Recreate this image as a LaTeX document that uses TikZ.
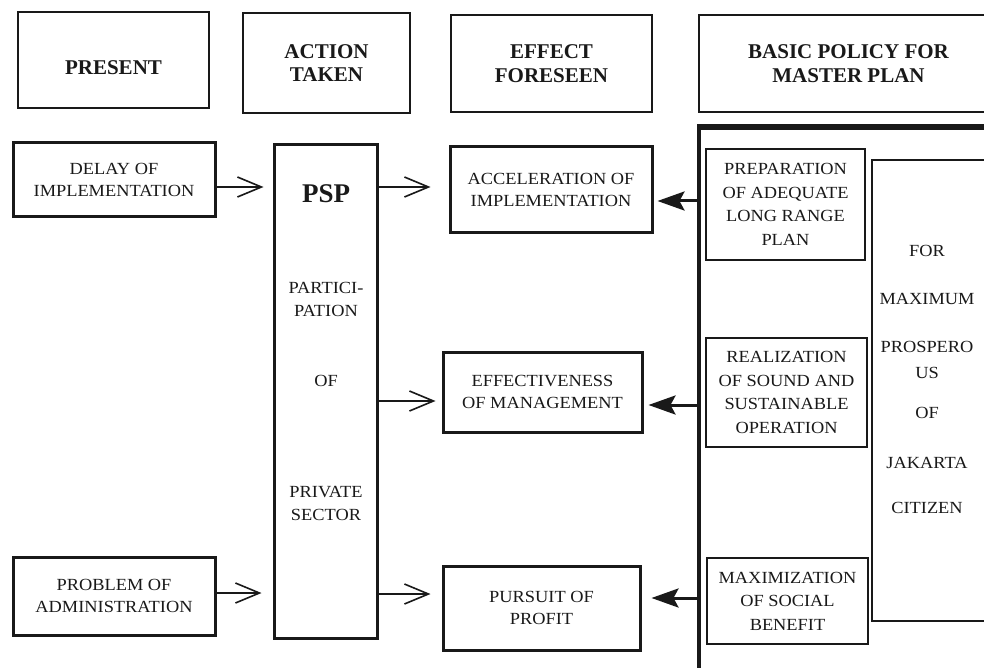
\documentclass[tikz,border=0pt]{standalone}
\usepackage{fontspec}
\setmainfont{Liberation Serif}
\newfontfamily\boxfont[FakeStretch=1.08]{Liberation Serif}
\usetikzlibrary{arrows.meta}
\definecolor{ink}{RGB}{25,25,25}
\tikzset{
  hdrbox/.style={draw=ink, line width=2pt, inner sep=0pt},
  hdrtext/.style={align=center, text=ink, inner sep=0pt,
    font=\fontsize{21}{23.5}\selectfont\bfseries},
  heavybox/.style={draw=ink, line width=3pt, inner sep=0pt, align=center,
    text=ink, font=\boxfont\fontsize{17}{22.5}\selectfont},
  lightbox/.style={draw=ink, line width=2pt, inner sep=0pt, align=center,
    text=ink, font=\boxfont\fontsize{17}{23.5}\selectfont},
  word/.style={align=center, text=ink, inner sep=0pt,
    font=\boxfont\fontsize{17}{23}\selectfont},
  openarrow/.style={draw=ink, line width=1.8pt,
    -{Straight Barb[length=24pt,width=20pt,line width=1.6pt]}},
  fatarrow/.style={draw=ink, line width=3pt,
    -{Stealth[length=27pt,width=19pt,inset=5pt]}},
}
\begin{document}
\begin{tikzpicture}[x=1pt,y=-1pt]
\fill[white] (0,0) rectangle (984,668);
\useasboundingbox (0,0) rectangle (984,668);
\clip (0,0) rectangle (984,668);

% column headings
\node[hdrbox, minimum width=191pt, minimum height=96pt,
  label={[hdrtext, yshift=-8pt]center:PRESENT}] (present) at (113.5,60) {};
\node[hdrbox, hdrtext, minimum width=167pt, minimum height=100pt]
  (action) at (326.5,63) {ACTION\\TAKEN};
\node[hdrbox, hdrtext, minimum width=201pt, minimum height=97pt]
  (effect) at (551.5,63.5) {EFFECT\\FORESEEN};
\node[hdrbox, hdrtext, minimum width=299pt, minimum height=97pt]
  (basic) at (848.5,63.5) {BASIC POLICY FOR\\MASTER PLAN};

% present situation
\node[heavybox, minimum width=202pt, minimum height=74pt]
  (delay) at (114,180) {DELAY OF\\IMPLEMENTATION};
\node[heavybox, minimum width=202pt, minimum height=78pt]
  (problem) at (114,596) {PROBLEM OF\\ADMINISTRATION};

% action taken
\node[heavybox, minimum width=103pt, minimum height=493pt] (psp) at (325.5,391.5) {};
\node[text=ink, inner sep=0pt, font=\fontsize{27}{30}\selectfont\bfseries]
  (pspname) at (326,194) {PSP};
\node[word] (psp1) at (326,299) {PARTICI-\\PATION};
\node[word] (psp2) at (326,381) {OF};
\node[word] (psp3) at (326,503) {PRIVATE\\SECTOR};

% effect foreseen
\node[heavybox, minimum width=202pt, minimum height=86pt]
  (acc) at (551,190) {ACCELERATION OF\\IMPLEMENTATION};
\node[heavybox, minimum width=199pt, minimum height=80pt]
  (eff) at (542.5,392) {EFFECTIVENESS\\OF MANAGEMENT};
\node[heavybox, minimum width=197pt, minimum height=84pt]
  (pursuit) at (541.5,608) {PURSUIT OF\\PROFIT};

% basic policy frame
\node[draw=ink, line width=3.2pt, minimum width=320pt, minimum height=580pt,
  inner sep=0pt] (policy) at (859,418) {};
\draw[ink, line width=4.5pt] (policy.north west) -- (policy.north east);
\node[lightbox, minimum width=159pt, minimum height=111pt]
  (prep) at (785.5,204.5) {PREPARATION\\OF ADEQUATE\\LONG RANGE\\PLAN};
\node[lightbox, minimum width=161pt, minimum height=109pt]
  (real) at (786.5,392.5) {REALIZATION\\OF SOUND AND\\SUSTAINABLE\\OPERATION};
\node[lightbox, minimum width=161pt, minimum height=86pt]
  (maxi) at (787.5,601) {MAXIMIZATION\\OF SOCIAL\\BENEFIT};

\node[draw=ink, line width=1.5pt, minimum width=125pt, minimum height=461pt,
  inner sep=0pt] (goal) at (934.5,390.5) {};
\node[word] (goal1) at (927,251) {FOR};
\node[word] (goal2) at (927,299) {MAXIMUM};
\node[word, font=\boxfont\fontsize{17}{26}\selectfont] (goal3) at (927,360) {PROSPERO\\US};
\node[word] (goal4) at (927,413) {OF};
\node[word] (goal5) at (927,463) {JAKARTA};
\node[word] (goal6) at (927,508) {CITIZEN};

% present -> action
\draw[openarrow, shorten >=9pt] ([yshift=-7pt]delay.east) -- ([yshift=-7pt]delay.east -| psp.west);
\draw[openarrow, shorten >=11pt] ([yshift=3pt]problem.east) -- ([yshift=3pt]problem.east -| psp.west);

% action -> effect
\draw[openarrow, shorten >=18pt] ([yshift=3pt]acc.west -| psp.east) -- ([yshift=3pt]acc.west);
\draw[openarrow, shorten >=6pt] ([yshift=-9pt]eff.west -| psp.east) -- ([yshift=-9pt]eff.west);
\draw[openarrow, shorten >=11pt] ([yshift=14pt]pursuit.west -| psp.east) -- ([yshift=14pt]pursuit.west);

% basic policy -> effect
\draw[fatarrow, shorten >=4pt] ([yshift=-11pt]acc.east -| policy.west) -- ([yshift=-11pt]acc.east);
\draw[fatarrow, shorten >=5pt] ([yshift=-13pt]eff.east -| policy.west) -- ([yshift=-13pt]eff.east);
\draw[fatarrow, shorten >=10pt] ([yshift=10pt]pursuit.east -| policy.west) -- ([yshift=10pt]pursuit.east);
\end{tikzpicture}
\end{document}
